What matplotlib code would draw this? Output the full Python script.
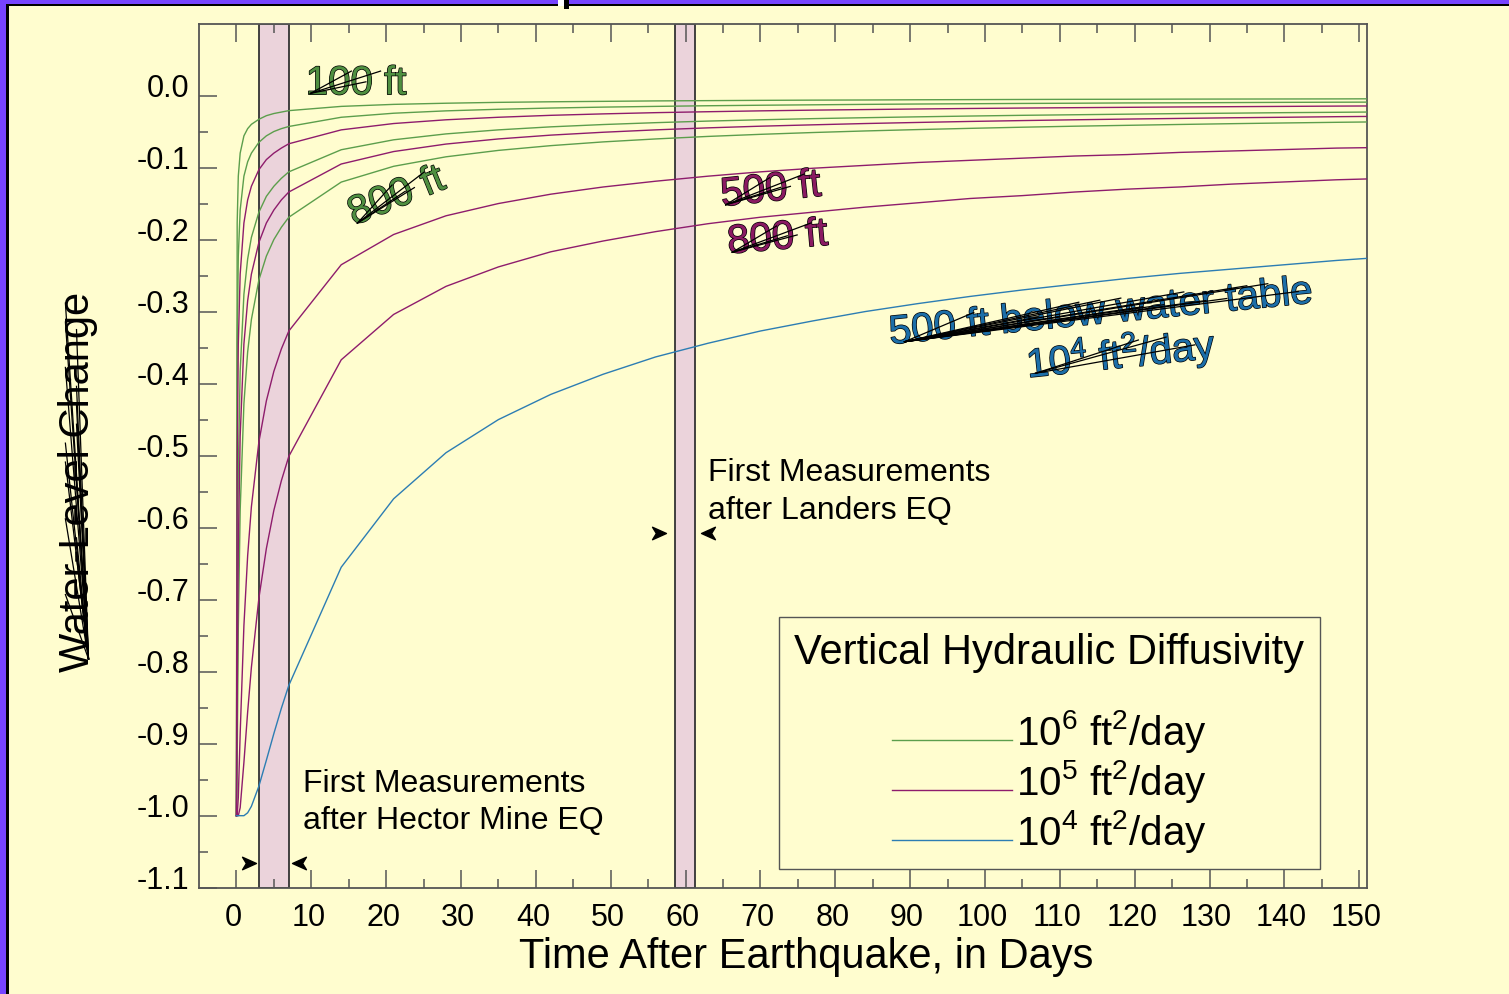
import numpy as np
import matplotlib
matplotlib.use("Agg")
import matplotlib.pyplot as plt
from matplotlib.patches import Rectangle
from matplotlib.path import Path
from matplotlib.textpath import TextPath
from matplotlib.font_manager import FontProperties
from matplotlib.legend_handler import HandlerLine2D
import matplotlib.patheffects as pe
from matplotlib.transforms import ScaledTranslation

plt.rcParams['font.family'] = ['Liberation Sans', 'DejaVu Sans']
plt.rcParams['mathtext.default'] = 'regular'

# sample times (days after the quake)
days = [0, 0.1, 0.25, 0.5, 1, 1.5, 2, 3, 4, 5, 6, 7,
        14, 21, 28, 35, 42, 49, 56, 63, 70, 77, 84, 91, 98,
        105, 112, 119, 126, 133, 140, 147, 154]

# diffusivity 10^6 ft2/day, depths 100/200/500/800 ft
g_100 = [-1.0, -0.177, -0.112, -0.080, -0.056, -0.046, -0.040, -0.033, -0.028, -0.025, -0.023, -0.021,
         -0.0151, -0.0123, -0.0107, -0.0095, -0.0087, -0.0081, -0.0075, -0.0071, -0.0067, -0.0064, -0.0062,
         -0.0059, -0.0057, -0.0055, -0.0053, -0.0052, -0.0050, -0.0049, -0.0048, -0.0047, -0.0045]
g_200 = [-1.0, -0.345, -0.223, -0.159, -0.112, -0.092, -0.080, -0.065, -0.056, -0.050, -0.046, -0.043,
         -0.0302, -0.0246, -0.0213, -0.0191, -0.0174, -0.0161, -0.0151, -0.0142, -0.0135, -0.0129, -0.0123,
         -0.0118, -0.0114, -0.0110, -0.0107, -0.0103, -0.0101, -0.0098, -0.0095, -0.0093, -0.0091]
g_500 = [-1.0, -0.736, -0.521, -0.383, -0.276, -0.227, -0.197, -0.162, -0.140, -0.126, -0.115, -0.106,
         -0.0753, -0.0615, -0.0533, -0.0477, -0.0435, -0.0403, -0.0377, -0.0355, -0.0337, -0.0321, -0.0308,
         -0.0296, -0.0285, -0.0275, -0.0267, -0.0259, -0.0251, -0.0245, -0.0238, -0.0233, -0.0227]
g_800 = [-1.0, -0.926, -0.742, -0.576, -0.428, -0.356, -0.311, -0.256, -0.223, -0.200, -0.183, -0.169,
         -0.1202, -0.0983, -0.0851, -0.0762, -0.0696, -0.0644, -0.0603, -0.0568, -0.0539, -0.0514, -0.0492,
         -0.0473, -0.0456, -0.0440, -0.0426, -0.0414, -0.0402, -0.0391, -0.0381, -0.0372, -0.0364]

# diffusivity 10^5 ft2/day
p_100 = [-1.0, -0.521, -0.345, -0.248, -0.177, -0.145, -0.126, -0.103, -0.089, -0.080, -0.073, -0.067,
         -0.0477, -0.0389, -0.0337, -0.0302, -0.0275, -0.0255, -0.0238, -0.0225, -0.0213, -0.0203, -0.0195,
         -0.0187, -0.0180, -0.0174, -0.0169, -0.0164, -0.0159, -0.0155, -0.0151, -0.0147, -0.0144]
p_200 = [-1.0, -0.843, -0.629, -0.473, -0.345, -0.285, -0.248, -0.204, -0.177, -0.159, -0.145, -0.134,
         -0.0951, -0.0778, -0.0674, -0.0603, -0.0550, -0.0510, -0.0477, -0.0449, -0.0426, -0.0407, -0.0389,
         -0.0374, -0.0360, -0.0348, -0.0337, -0.0327, -0.0318, -0.0309, -0.0302, -0.0294, -0.0288]
p_500 = [-1.0, -1.000, -0.975, -0.886, -0.736, -0.639, -0.571, -0.481, -0.424, -0.383, -0.352, -0.327,
         -0.235, -0.193, -0.167, -0.150, -0.137, -0.127, -0.119, -0.112, -0.106, -0.101, -0.097,
         -0.093, -0.090, -0.087, -0.084, -0.082, -0.079, -0.077, -0.075, -0.073, -0.072]
p_800 = [-1.0, -1.000, -1.000, -0.989, -0.926, -0.856, -0.794, -0.698, -0.629, -0.576, -0.535, -0.501,
         -0.367, -0.304, -0.265, -0.238, -0.217, -0.202, -0.189, -0.178, -0.169, -0.162, -0.155,
         -0.149, -0.143, -0.139, -0.134, -0.130, -0.127, -0.123, -0.120, -0.117, -0.115]

# diffusivity 10^4 ft2/day, 500 ft
b_500 = [-1.0, -1.000, -1.000, -1.000, -1.000, -0.996, -0.987, -0.959, -0.923, -0.886, -0.851, -0.819,
         -0.655, -0.560, -0.496, -0.450, -0.415, -0.387, -0.363, -0.344, -0.327, -0.313, -0.300,
         -0.289, -0.279, -0.270, -0.262, -0.254, -0.247, -0.241, -0.235, -0.229, -0.224]

legend_labels = ['10$^6$ ft$^2$/day', '10$^5$ ft$^2$/day', '10$^4$ ft$^2$/day']

# first-measurement windows (days)
hector_window = (3.0, 7.0)
landers_window = (58.6, 61.3)
hector_marks = [1.7, 8.3]
hector_mark_level = -1.066
landers_marks = [56.5, 63.0]
landers_mark_level = -0.607

x_ticks = list(range(0, 151, 10))
x_minor = list(range(5, 150, 10))
y_ticks = [-1.1, -1.0, -0.9, -0.8, -0.7, -0.6, -0.5, -0.4, -0.3, -0.2, -0.1, 0.0]
y_labels = ['-1.1', '-1.0', '-0.9', '-0.8', '-0.7', '-0.6', '-0.5', '-0.4', '-0.3', '-0.2', '-0.1', '0.0']
y_minor = [-1.05, -0.95, -0.85, -0.75, -0.65, -0.55, -0.45, -0.35, -0.25, -0.15, -0.05]

bg = '#FFFDCF'
frame_purple = '#7744FF'
band_color = '#EBD3DB'
green = '#5C9E4C'
purple = '#8E1C6C'
blue = '#2C7DB3'
green_txt = '#4F8F40'
purple_txt = '#8A1A62'
blue_txt = '#1C6EA8'

W, H = 1509, 995
PX = 100 / 72.0


def fpos(x, y):
    return x / W, 1 - y / H


def scribble(cx, cy, s, size, rot, fracs):
    # thin black strokes fanning out from the start of a label
    w = TextPath((0, 0), s, size=size * PX, prop=FontProperties(family='Liberation Sans')).get_extents().width
    cap = 0.72 * size * PX
    a = np.radians(rot)
    rot_m = np.array([[np.cos(a), -np.sin(a)], [np.sin(a), np.cos(a)]])
    start = np.array([-w / 2 + 0.03 * w, -0.35 * cap])
    for i, f in enumerate(fracs):
        end = np.array([-w / 2 + f * w, (0.42 if i % 2 == 0 else 0.05) * cap])
        pts = np.array([start, end]) @ rot_m.T + np.array([cx, cy])
        fig.add_artist(plt.Line2D(pts[:, 0], pts[:, 1], transform=None, color='black', lw=0.9, zorder=8))


class BaselineHandler(HandlerLine2D):
    def create_artists(self, legend, orig_handle, xdescent, ydescent, width, height, fontsize, trans):
        return super().create_artists(legend, orig_handle, xdescent, ydescent + 0.5 * fontsize,
                                      width, height, fontsize, trans)


fig = plt.figure(figsize=(W / 100, H / 100), dpi=100)
fig.patch.set_facecolor(bg)

ax = fig.add_axes([199 / W, 1 - 888.7 / H, (1366.7 - 199) / W, (888.7 - 24.5) / H])
ax.set_facecolor(bg)
ax.set_xlim(-5, 151)
ax.set_ylim(-1.1, 0.1)

for lo, hi in (hector_window, landers_window):
    ax.axvspan(lo, hi, facecolor=band_color, edgecolor='#333333', lw=1.3, zorder=1)

lw = 1.0
ax.plot(days, g_100, color=green, lw=lw, zorder=3)
ax.plot(days, g_200, color=green, lw=lw, zorder=3)
ax.plot(days, g_500, color=green, lw=lw, zorder=3)
ax.plot(days, g_800, color=green, lw=lw, zorder=3)
ax.plot(days, p_100, color=purple, lw=lw, zorder=3)
ax.plot(days, p_200, color=purple, lw=lw, zorder=3)
ax.plot(days, p_500, color=purple, lw=lw, zorder=3)
ax.plot(days, p_800, color=purple, lw=lw, zorder=3)
ax.plot(days, b_500, color=blue, lw=lw, zorder=3)

# notched arrowheads bracketing each window
arrow_r = Path([(-1, -0.9), (1, 0), (-1, 0.9), (-0.45, 0), (-1, -0.9)],
               [Path.MOVETO, Path.LINETO, Path.LINETO, Path.LINETO, Path.CLOSEPOLY])
arrow_l = Path([(1, -0.9), (-1, 0), (1, 0.9), (0.45, 0), (1, -0.9)],
               [Path.MOVETO, Path.LINETO, Path.LINETO, Path.LINETO, Path.CLOSEPOLY])
for marks, level in ((hector_marks, hector_mark_level), (landers_marks, landers_mark_level)):
    ax.plot([marks[0]], [level], marker=arrow_r, ms=10, color='black', ls='none', zorder=4)
    ax.plot([marks[1]], [level], marker=arrow_l, ms=10, color='black', ls='none', zorder=4)

ax.text(8.9, -0.980, 'First Measurements\nafter Hector Mine EQ', fontsize=23,
        ha='left', va='center', linespacing=1.32, zorder=5)
ax.text(63.0, -0.549, 'First Measurements\nafter Landers EQ', fontsize=23,
        ha='left', va='center', linespacing=1.32, zorder=5)

outline = [pe.Stroke(linewidth=1.0, foreground='black'), pe.Normal()]
curve_labels = [
    (16.0, 0.017, '100 ft', green_txt, 0, [0.45, 0.6, 0.75]),
    (21.4, -0.140, '800 ft', green_txt, 22, [0.5, 0.7, 0.85, 0.6]),
    (71.4, -0.131, '500 ft', purple_txt, 6, [0.5, 0.7, 0.85, 0.6]),
    (72.3, -0.198, '800 ft', purple_txt, 5, [0.5, 0.7, 0.85, 0.6]),
    (115.5, -0.301, '500 ft below water table', blue_txt, 5.6,
     [0.2, 0.35, 0.5, 0.6, 0.7, 0.8, 0.9, 0.97, 0.45, 0.65, 0.85, 0.75, 0.55]),
    (118.2, -0.359, '10$^4$ ft$^2$/day', blue_txt, 6, [0.75, 0.9, 0.6]),
]
for x, y, s, c, rot, fracs in curve_labels:
    ax.text(x, y, s, color=c, fontsize=29, ha='center', va='center', rotation=rot,
            rotation_mode='anchor', path_effects=outline, zorder=6)
    cx, cy = ax.transData.transform((x, y))
    scribble(cx, cy, s, 29, rot, fracs)

ax.set_xticks(x_ticks)
ax.set_xticks(x_minor, minor=True)
ax.set_yticks(y_ticks)
ax.set_yticklabels(y_labels)
ax.set_yticks(y_minor, minor=True)
ax.tick_params(which='both', direction='in', top=True, bottom=True, left=True, right=False,
               color='#555555', width=1.1)
ax.tick_params(which='major', length=13, labelsize=22)
ax.tick_params(which='minor', length=6.5)
ax.tick_params(axis='x', which='major', pad=10)
ax.tick_params(axis='y', which='major', pad=7)
for tk in ax.yaxis.get_major_ticks():
    tk.label1.set_verticalalignment('baseline')
shift = ScaledTranslation(-3 / 100, 0, fig.dpi_scale_trans)
for lbl in ax.get_xticklabels():
    lbl.set_transform(lbl.get_transform() + shift)
for sp in ax.spines.values():
    sp.set_color('#555555')
    sp.set_linewidth(1.3)

fig.text(*fpos(806, 957), 'Time After Earthquake, in Days', fontsize=30, ha='center', va='center')
fig.text(*fpos(78, 482), 'Water-Level Change', fontsize=30, ha='center', va='center', rotation=90)
scribble(78, H - 482, 'Water-Level Change', 30, 90,
         [0.2, 0.3, 0.4, 0.5, 0.6, 0.7, 0.8, 0.9, 0.97, 0.35, 0.55, 0.75, 0.92, 0.65])

handles = [plt.Line2D([], [], color=c, lw=1.0) for c in (green, purple, blue)]
leg = ax.legend(handles, legend_labels, title='Vertical Hydraulic Diffusivity',
                loc='upper left', bbox_to_anchor=fpos(779, 618), bbox_transform=fig.transFigure,
                fontsize=29, title_fontsize=30, frameon=True, fancybox=False,
                edgecolor='#555555', facecolor=bg, framealpha=1, handlelength=3.0,
                handletextpad=0.1, borderpad=0.38, labelspacing=0.07, borderaxespad=0,
                handler_map={plt.Line2D: BaselineHandler()})
leg.get_frame().set_linewidth(1.0)
leg._legend_box.sep = 25
leg.set_zorder(7)

# slide frame along the top and left edges
fig.add_artist(Rectangle((0, 1 - 5 / H), 1, 5 / H, transform=fig.transFigure,
                         facecolor=frame_purple, edgecolor='none'))
fig.add_artist(Rectangle((0, 0), 6 / W, 1, transform=fig.transFigure,
                         facecolor=frame_purple, edgecolor='none'))
fig.add_artist(Rectangle((6 / W, 1 - 7 / H), 1, 2 / H, transform=fig.transFigure,
                         facecolor='black', edgecolor='none'))
fig.add_artist(Rectangle((6 / W, 0), 2.7 / W, 1 - 5 / H, transform=fig.transFigure,
                         facecolor='black', edgecolor='none'))
fig.add_artist(Rectangle((558 / W, 1 - 7 / H), 6 / W, 7 / H, transform=fig.transFigure,
                         facecolor='white', edgecolor='none'))
fig.add_artist(Rectangle((564 / W, 1 - 10 / H), 5 / W, 10 / H, transform=fig.transFigure,
                         facecolor='black', edgecolor='none'))

fig.savefig('out.png', dpi=100, facecolor=bg)
